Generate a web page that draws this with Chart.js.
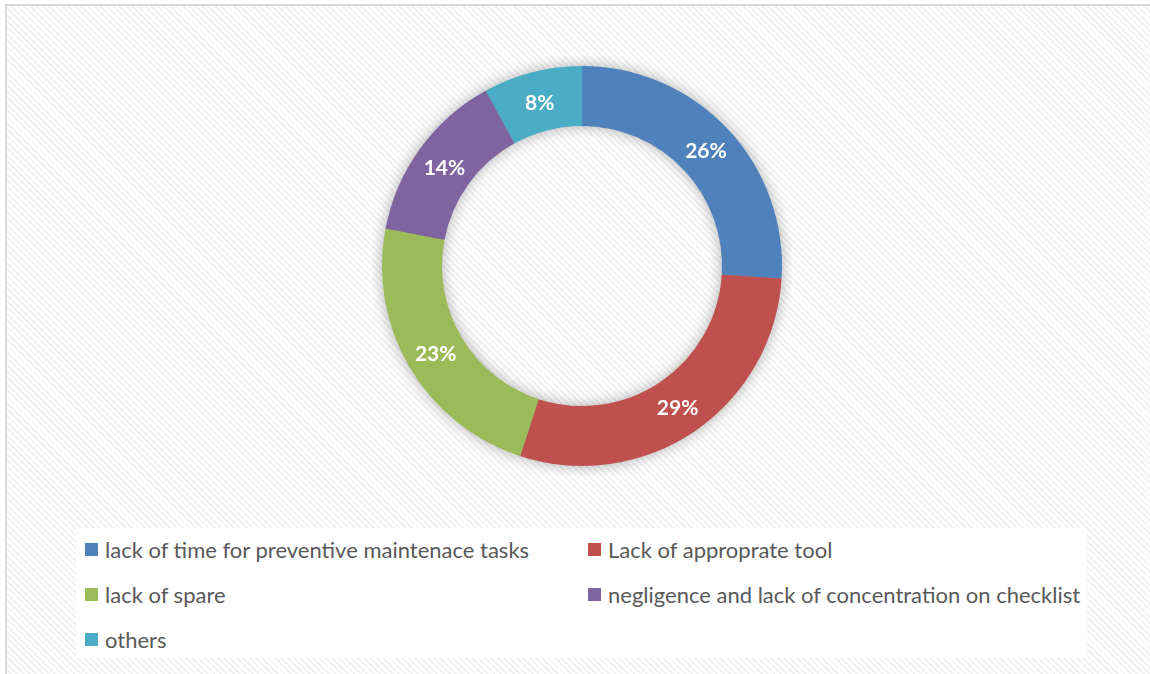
<!DOCTYPE html>
<html lang="en">
<head>
<meta charset="UTF-8">
<title>Causes</title>
<script src="https://cdn.jsdelivr.net/npm/chart.js"></script>
<style>
    html, body { margin: 0; padding: 0; overflow: hidden; }
    body {
        width: 1150px; height: 674px; position: relative;
        background: #fff;
        font-family: "Lato", sans-serif;
    }
    .frame {
        position: absolute; left: 5px; top: 4px; width: 1200px; height: 720px;
        border-left: 2px solid #d9d9d9; border-top: 2px solid #d9d9d9;
        background: repeating-linear-gradient(45deg, #ffffff 0px, #ffffff 2.5px, #f3f3f3 2.5px, #f3f3f3 4.5px);
    }
    .chart-box { position: absolute; left: 372px; top: 56px; width: 420px; height: 420px; }
    .legend {
        position: absolute; left: 76px; top: 528px; width: 1011px; height: 130px;
        background: #fff;
    }
    .legend .item {
        position: absolute; display: flex; align-items: center;
        color: #595959; font-size: 22px; white-space: nowrap;
    }
    .legend .swatch { width: 13px; height: 13px; margin-right: 7px; }
</style>
</head>
<body>
    <div class="frame"></div>
    <div class="chart-box"><canvas id="donut"></canvas></div>
    <div class="legend" id="legend"></div>

<script>
const causes = [
    'lack of time for preventive maintenace tasks',
    'Lack of approprate tool',
    'lack of spare',
    'negligence and lack of concentration on checklist',
    'others'
];
const shares = [26, 29, 23, 14, 8];
const colors = ['#4f81bd', '#c0504d', '#9bbb59', '#8064a2', '#4bacc6'];

// legend: two columns, filled row by row
const legendEl = document.getElementById('legend');
causes.forEach((name, i) => {
    const item = document.createElement('div');
    item.className = 'item';
    item.style.left = (i % 2 === 0 ? 9 : 512) + 'px';
    item.style.top = (8 + Math.floor(i / 2) * 45) + 'px';
    item.innerHTML = `<span class="swatch" style="background:${colors[i]}"></span><span>${name}</span>`;
    legendEl.appendChild(item);
});

// soft shadow under the ring
const ringShadow = {
    id: 'ringShadow',
    beforeDatasetsDraw(chart) {
        const arc = chart.getDatasetMeta(0).data[0];
        if (!arc) return;
        const ctx = chart.ctx;
        ctx.save();
        ctx.shadowColor = 'rgba(0,0,0,0.35)';
        ctx.shadowBlur = 16;
        ctx.fillStyle = '#888';
        ctx.beginPath();
        ctx.arc(arc.x, arc.y, arc.outerRadius - 1, 0, Math.PI * 2);
        ctx.arc(arc.x, arc.y, arc.innerRadius + 1, 0, Math.PI * 2, true);
        ctx.fill();
        ctx.restore();
    }
};

// percentage labels in the middle of each segment
const sliceLabels = {
    id: 'sliceLabels',
    afterDatasetsDraw(chart) {
        const ctx = chart.ctx;
        ctx.save();
        ctx.fillStyle = '#fff';
        ctx.font = 'bold 21px Lato';
        ctx.textAlign = 'center';
        ctx.textBaseline = 'middle';
        chart.getDatasetMeta(0).data.forEach((arc, i) => {
            const p = arc.tooltipPosition();
            ctx.fillText(shares[i] + '%', p.x, p.y + 2);
        });
        ctx.restore();
    }
};

new Chart(document.getElementById('donut'), {
    type: 'doughnut',
    data: {
        labels: causes,
        datasets: [{
            data: shares,
            backgroundColor: colors,
            borderWidth: 0,
            hoverOffset: 0
        }]
    },
    options: {
        responsive: true,
        maintainAspectRatio: false,
        animation: false,
        cutout: '70%',
        layout: { padding: 10 },
        plugins: {
            legend: { display: false },
            tooltip: { enabled: false }
        }
    },
    plugins: [ringShadow, sliceLabels]
});
</script>
</body>
</html>
